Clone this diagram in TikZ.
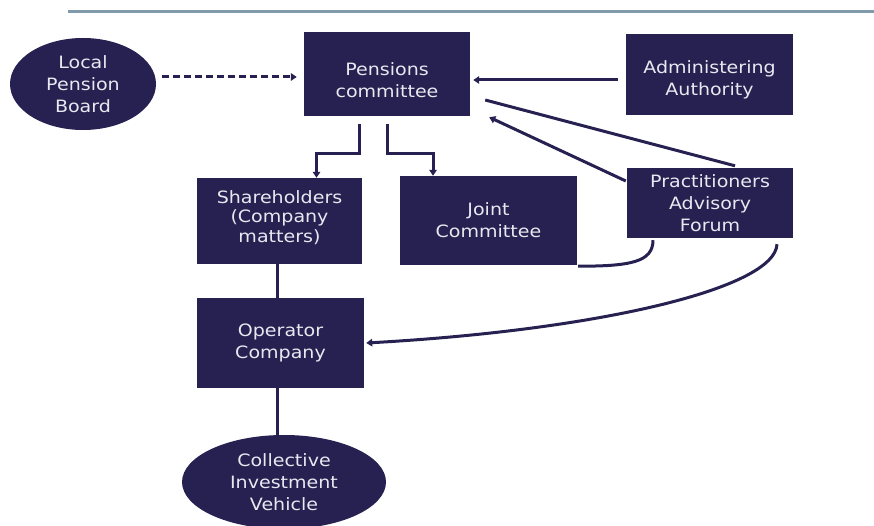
\documentclass[tikz,border=0pt]{standalone}
\usepackage{fontspec}
\setmainfont{DejaVu Sans}[FakeStretch=1.12]
\usetikzlibrary{shapes.geometric,arrows.meta,calc}
\definecolor{navy}{HTML}{272151}
\definecolor{txt}{HTML}{E8E8F0}
\definecolor{rule}{HTML}{7F9AAA}
\tikzset{
  box/.style={rectangle, fill=navy, inner sep=0pt, text=txt, align=center, font=\fontsize{17}{22}\selectfont},
  oval/.style={ellipse, fill=navy, inner sep=0pt, text=txt, align=center, font=\fontsize{17}{22}\selectfont},
  conn/.style={draw=navy, line width=3pt},
  arr/.style={conn, -{Triangle[length=6pt,width=7.5pt]}},
}
\begin{document}
\begin{tikzpicture}[x=1pt,y=-1pt]
\useasboundingbox (0,0) rectangle (874,526);
\draw[rule, line width=3pt] (68,12) -- (874,12);
\node[oval, minimum width=146pt, minimum height=92pt] (lpb) at (83,84) {Local\\Pension\\Board};
\node[box, minimum width=166pt, minimum height=84pt] (pc) at (387,74) {\vphantom{x}\\[-7pt]Pensions\\committee};
\node[box, minimum width=167pt, minimum height=81pt] (aa) at (709.5,74.5) {\vphantom{x}\\[-8pt]Administering\\Authority};
\node[box, minimum width=165pt, minimum height=86pt, font=\fontsize{17}{19.5}\selectfont] (sh) at (279.5,221) {Shareholders\\(Company\\matters)\\[-10pt]\vphantom{x}};
\node[box, minimum width=177pt, minimum height=89pt] (jc) at (488.5,220.5) {Joint\\Committee};
\node[box, minimum width=166pt, minimum height=70pt] (paf) at (710,203) {Practitioners\\Advisory\\Forum};
\node[box, minimum width=167pt, minimum height=90pt] (oc) at (280.5,343) {Operator\\Company};
\node[oval, minimum width=204pt, minimum height=94pt] (civ) at (284,482) {Collective\\Investment\\Vehicle};
% connectors
\draw[arr, dashed, dash pattern=on 7pt off 4pt] ([shift={(6,-7)}]lpb.east) -- ([shift={(-7,3)}]pc.west);
\draw[arr] ([shift={(-8,5.5)}]aa.west) -- ([shift={(3,6)}]pc.east);
\draw[arr] ([shift={(-28,8)}]pc.south) -- ++(0,29) -| ([xshift=37]sh.north);
\draw[arr] ([shift={(0,8)}]pc.south) -- ++(0,29) -| ([xshift=-55.5]jc.north);
\draw[conn] ([shift={(15,26)}]pc.east) -- ([shift={(25,-2)}]paf.north);
\draw[arr] ([shift={(-1,-22)}]paf.west) -- ([shift={(19,1)}]pc.south east);
\draw[conn] ([shift={(-57,2)}]paf.south) .. controls ([shift={(-57,24)}]paf.south) and ([shift={(-80,28)}]paf.south) .. ([shift={(1,1)}]jc.south east);
\draw[arr] ([shift={(67,6)}]paf.south) .. controls ([shift={(65,50)}]paf.south) and (600,330) .. ([xshift=2]oc.east);
\draw[conn] ([xshift=-2.5]sh.south) -- ([xshift=-2.5]sh.south |- oc.north);
\draw[conn] ([xshift=-3.5]oc.south) -- ([xshift=-3.5]oc.south |- civ.north);
\end{tikzpicture}
\end{document}
